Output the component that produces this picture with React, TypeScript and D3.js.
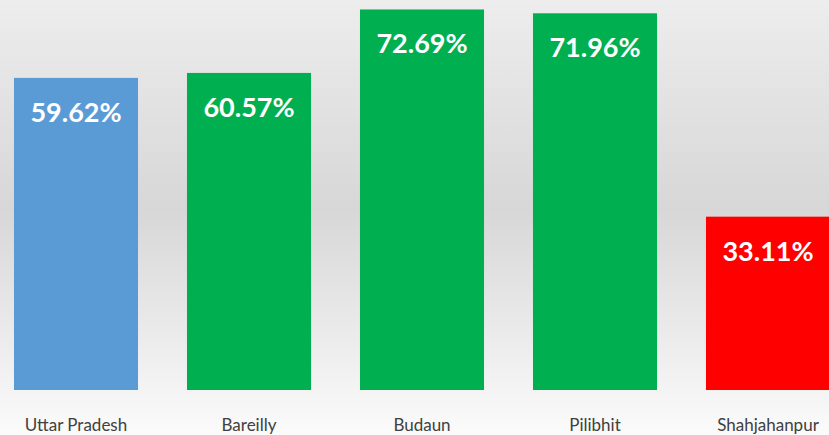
import React from "react";
import * as d3 from "d3";

const categories = ["Uttar Pradesh", "Bareilly", "Budaun", "Pilibhit", "Shahjahanpur"];
const values = [59.62, 60.57, 72.69, 71.96, 33.11];
const colors = ["#5b9bd5", "#00b050", "#00b050", "#00b050", "#ff0000"];

const W = 829;
const H = 435;

export default function App() {
  const x = d3
    .scaleBand<string>()
    .domain(categories)
    .range([-10.5, 854.5])
    .paddingInner(0.283)
    .paddingOuter(0.1415);
  const y = d3.scaleLinear().domain([0, 74.5]).range([390, 0]);

  return (
    <svg
      width={W}
      height={H}
      style={{ position: "absolute", left: 0, top: 0, display: "block" }}
    >
      <defs>
        <linearGradient id="bg" x1="0" y1="0" x2="0" y2="1">
          <stop offset="0" stopColor="#ededed" />
          <stop offset="0.48" stopColor="#d7d7d7" />
          <stop offset="0.9" stopColor="#f4f4f4" />
          <stop offset="1" stopColor="#fbfbfb" />
        </linearGradient>
      </defs>
      <rect x={0} y={0} width={W} height={H} fill="url(#bg)" />
      {categories.map((c, i) => {
        const bx = x(c)!;
        const bw = x.bandwidth();
        const top = y(values[i]);
        return (
          <g key={c}>
            <rect x={bx} y={top} width={bw} height={y(0) - top} fill={colors[i]} />
            <text
              x={bx + bw / 2}
              y={top + 44}
              textAnchor="middle"
              fill="#ffffff"
              fontFamily="Lato, 'Open Sans', sans-serif"
              fontWeight="bold"
              fontSize={27}
            >
              {values[i].toFixed(2) + "%"}
            </text>
            <text
              x={bx + bw / 2}
              y={431}
              textAnchor="middle"
              fill="#404040"
              fontFamily="Lato, 'Open Sans', sans-serif"
              fontSize={17}
            >
              {c}
            </text>
          </g>
        );
      })}
    </svg>
  );
}
